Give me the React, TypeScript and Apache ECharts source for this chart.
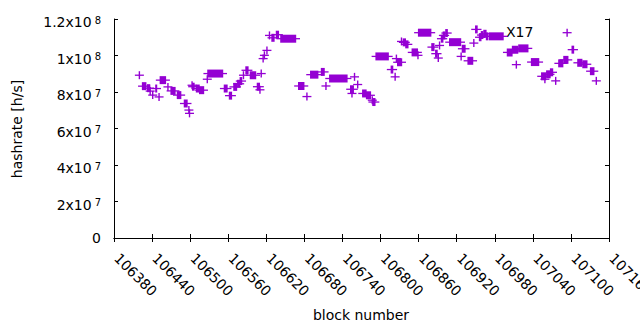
import React, { useEffect, useRef } from "react";
import * as echarts from "echarts";

// block ranges (start/end) of each plotted group of points and their hashrate [h/s]
const runStart = [
  106420, 106425, 106433, 106437, 106441, 106446, 106451, 106453, 106465, 106470,
  106480, 106491, 106498, 106499, 106503, 106504, 106510, 106515, 106527, 106528,
  106554, 106562, 106569, 106575, 106579, 106584, 106588, 106595, 106606, 106610,
  106612, 106615, 106617, 106621, 106625, 106629, 106636, 106643, 106671, 106684,
  106690, 106707, 106714, 106720, 106753, 106755, 106759, 106764, 106772, 106778,
  106787, 106788, 106793, 106817, 106823, 106825, 106827, 106833, 106836, 106840,
  106850, 106859, 106860, 106881, 106887, 106891, 106893, 106896, 106899, 106903,
  106909, 106927, 106929, 106938, 106947, 106950, 106956, 106959, 106963, 106967,
  106972, 107000, 107008, 107014, 107018, 107038, 107054, 107059, 107062, 107068,
  107076, 107081, 107089, 107094, 107102, 107111, 107119, 107131, 107140,
];
const runEnd = [
  106420, 106430, 106436, 106437, 106441, 106447, 106451, 106461, 106465, 106476,
  106485, 106495, 106498, 106499, 106503, 106506, 106514, 106521, 106527, 106551,
  106558, 106565, 106573, 106578, 106581, 106584, 106591, 106603, 106609, 106610,
  106612, 106615, 106617, 106621, 106625, 106632, 106639, 106666, 106679, 106684,
  106701, 106711, 106714, 106747, 106757, 106755, 106759, 106764, 106777, 106784,
  106787, 106791, 106812, 106819, 106823, 106825, 106833, 106833, 106839, 106843,
  106858, 106859, 106879, 106884, 106889, 106891, 106893, 106898, 106901, 106905,
  106926, 106927, 106933, 106945, 106947, 106952, 106958, 106961, 106966, 106969,
  106993, 107007, 107016, 107014, 107032, 107049, 107060, 107059, 107067, 107071,
  107076, 107087, 107095, 107094, 107104, 107117, 107125, 107136, 107140,
];
const runHashrate = [
  8.92e7, 8.32e7, 8.21e7, 8.05e7, 7.83e7, 8.19e7, 7.73e7, 8.65e7, 8.28e7, 8.06e7,
  7.83e7, 7.37e7, 7.01e7, 6.83e7, 8.37e7, 8.29e7, 8.19e7, 8.10e7, 8.70e7, 9.01e7,
  8.19e7, 7.80e7, 8.28e7, 8.45e7, 8.60e7, 8.92e7, 9.19e7, 8.92e7, 8.29e7, 8.12e7,
  9.01e7, 9.83e7, 1.001e8, 1.028e8, 1.110e8, 1.097e8, 1.114e8, 1.092e8, 8.33e7, 7.75e7,
  8.95e7, 9.10e7, 8.33e7, 8.74e7, 8.15e7, 7.92e7, 8.83e7, 8.41e7, 7.92e7, 7.82e7,
  7.55e7, 7.45e7, 9.95e7, 9.23e7, 8.83e7, 9.83e7, 9.63e7, 1.077e8, 1.072e8, 1.061e8,
  1.017e8, 1.001e8, 1.125e8, 1.046e8, 1.010e8, 9.86e7, 1.055e8, 1.092e8, 1.110e8, 1.123e8,
  1.073e8, 9.95e7, 1.037e8, 9.71e7, 1.068e8, 1.143e8, 1.100e8, 1.112e8, 1.119e8, 1.105e8,
  1.105e8, 1.017e8, 1.031e8, 9.50e7, 1.039e8, 9.64e7, 8.86e7, 8.70e7, 8.97e7, 9.08e7,
  8.61e7, 9.57e7, 9.76e7, 1.125e8, 1.032e8, 9.60e7, 9.52e7, 9.14e7, 8.61e7,
];

const xMin = 106380;
const xMax = 107160;
const xStep = 60;
const yMin = 0;
const yMax = 1.2e8;
const yStep = 2e7;

const annotation = "X17";
const xTitle = "block number";
const yTitle = "hashrate [h/s]";

const COLOR = "#9400d3";
const FONT = "DejaVu Sans";

function yLabel(v: number): string {
  if (v === 0) return "0";
  const exp = Math.floor(Math.log10(v) + 1e-9);
  const mant = parseFloat((v / Math.pow(10, exp)).toFixed(1));
  return `{m|${mant}x10}{e|${exp}}`;
}

export default function App() {
  const ref = useRef<HTMLDivElement>(null);
  useEffect(() => {
    if (!ref.current) return;
    const chart = echarts.init(ref.current, null, { renderer: "svg" });
    const data = runStart.map((s, i) => [s, runEnd[i], runHashrate[i]]);
    const axisLine = { show: true, lineStyle: { color: "#000", width: 1 } };
    const axisTick = { show: true, inside: true, length: 4, lineStyle: { color: "#000", width: 1 } };
    chart.setOption({
      animation: false,
      backgroundColor: "#fff",
      textStyle: { fontFamily: FONT },
      grid: { left: 114, right: 31, top: 19, bottom: 92, containLabel: false, outerBoundsMode: "none" },
      xAxis: [
        {
          type: "value", position: "bottom", min: xMin, max: xMax, interval: xStep,
          axisLine, axisTick, splitLine: { show: false },
          axisLabel: {
            rotate: -45, margin: 15, fontSize: 14, color: "#000", fontFamily: FONT,
            formatter: (v: number) => `{t|${v}}`,
            rich: { t: { fontSize: 14, fontFamily: FONT, color: "#000", padding: [0, 0, 0, 4] } },
          },
        },
        {
          type: "value", position: "top", min: xMin, max: xMax, interval: xStep,
          axisLine, axisTick, splitLine: { show: false }, axisLabel: { show: false },
        },
      ],
      yAxis: [
        {
          type: "value", position: "left", min: yMin, max: yMax, interval: yStep,
          axisLine, axisTick, splitLine: { show: false },
          axisLabel: {
            margin: 13, fontSize: 14, color: "#000", fontFamily: FONT,
            formatter: yLabel,
            rich: {
              m: { fontSize: 14, lineHeight: 16, padding: [6, 0, 0, 0], color: "#000", fontFamily: FONT },
              e: { fontSize: 10, lineHeight: 10, padding: [4, 0, 0, 3], verticalAlign: "top", color: "#000", fontFamily: FONT },
            },
          },
        },
        {
          type: "value", position: "right", min: yMin, max: yMax, interval: yStep,
          axisLine, axisTick, splitLine: { show: false }, axisLabel: { show: false },
        },
      ],
      series: [
        {
          type: "custom",
          xAxisIndex: 0,
          yAxisIndex: 0,
          encode: { x: [0, 1], y: 2 },
          data,
          renderItem: (params: any, api: any) => {
            const s = api.value(0);
            const e = api.value(1);
            const v = api.value(2);
            const p0 = api.coord([s, v]);
            const p1 = api.coord([e, v]);
            return {
              type: "group",
              children: [
                {
                  type: "line",
                  shape: { x1: p0[0] - 4.5, y1: p0[1], x2: p1[0] + 4.5, y2: p1[1] },
                  style: { stroke: COLOR, lineWidth: 1.3 },
                },
                {
                  type: "rect",
                  shape: { x: p0[0] - 0.7, y: p0[1] - 4, width: p1[0] - p0[0] + 1.4, height: 8 },
                  style: { fill: COLOR },
                },
              ],
            };
          },
        },
      ],
      graphic: [
        {
          type: "text", left: 506, top: 25,
          style: { text: annotation, fontSize: 14, fill: "#000", fontFamily: FONT },
        },
        {
          type: "text", x: 361, y: 315,
          style: { text: xTitle, fontSize: 14, fill: "#000", fontFamily: FONT, align: "center", verticalAlign: "middle" },
        },
        {
          type: "text", x: 17, y: 129, rotation: Math.PI / 2,
          style: { text: yTitle, fontSize: 14, fill: "#000", fontFamily: FONT, align: "center", verticalAlign: "middle" },
        },
      ],
    });
    return () => chart.dispose();
  }, []);
  return (
    <div
      ref={ref}
      style={{ position: "fixed", left: 0, top: 0, width: 640, height: 330, background: "#fff" }}
    />
  );
}
